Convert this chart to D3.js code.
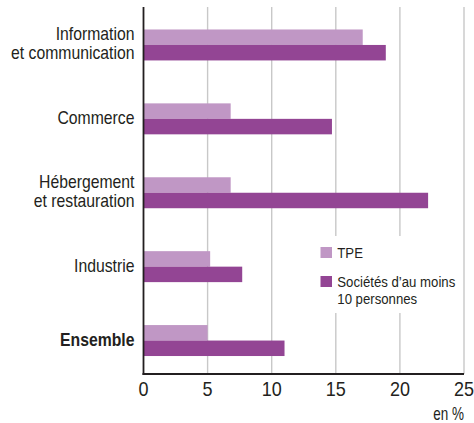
<!DOCTYPE html>
<html><head><meta charset="utf-8">
<script src="https://cdn.jsdelivr.net/npm/d3@7"></script>
<style>
body{margin:0;background:#fff;}
text{font-family:"Liberation Sans",Arial,sans-serif;fill:#231f20;}
</style></head><body>
<svg id="c" width="474" height="423"></svg>
<script>
const categories = [["Information","et communication"],["Commerce"],["Hébergement","et restauration"],["Industrie"],["Ensemble"]];
const tpe = [17.1, 6.8, 6.8, 5.2, 5.0];
const societes = [18.9, 14.7, 22.2, 7.7, 11.0];
const seriesNames = [["TPE"], ["Sociétés d’au moins","10 personnes"]];
const colors = ["#c097c5", "#934594"];
const ticks = [0,5,10,15,20,25];

const svg = d3.select("#c");
const W = 474, H = 423;
const plotTop = 7, plotBottom = 374;
const x = d3.scaleLinear().domain([0,25]).range([143.5, 464]);
const y = d3.scaleBand().domain(d3.range(categories.length)).range([11, 374.5]).paddingInner(0.581).paddingOuter(0.25);
const y2 = d3.scaleBand().domain([0,1]).range([0, y.bandwidth()]);

// gridlines
svg.append("g").selectAll("line").data(ticks.slice(1)).join("line")
  .attr("x1", d=>x(d)).attr("x2", d=>x(d)).attr("y1", plotTop).attr("y2", plotBottom)
  .attr("stroke", "#c8c8c8").attr("stroke-width", 1.4);

// legend background
const lg = svg.append("g");
lg.append("rect").attr("x", 310).attr("y", 236).attr("width", 150).attr("height", 77).attr("fill", "#fff");

// bars
const g = svg.append("g");
[tpe, societes].forEach((vals, si) => {
  g.selectAll(null).data(vals).join("rect")
    .attr("x", x(0)).attr("y", (d,i)=>y(i)+y2(si))
    .attr("width", d=>x(d)-x(0)).attr("height", y2.bandwidth())
    .attr("fill", colors[si]);
});

// condensed text helper
function ctext(parent, px, py, lines, opts) {
  const o = Object.assign({size:19, sx:0.83, anchor:"start", lh:18.5, weight:"normal"}, opts);
  const t = parent.append("text")
    .attr("transform", `translate(${px},${py}) scale(${o.sx},1)`)
    .attr("text-anchor", o.anchor).attr("font-size", o.size).attr("font-weight", o.weight);
  lines.forEach((s, k) => t.append("tspan").attr("x", 0).attr("y", k*o.lh/1).text(s));
  return t;
}

// x axis
const xa = svg.append("g").attr("transform", `translate(0,${plotBottom})`)
  .call(d3.axisBottom(x).tickValues(ticks).tickSize(0).tickPadding(8).tickFormat(d3.format("d")));
xa.select(".domain").remove();
xa.selectAll("text").attr("font-size", 20).attr("transform", "scale(0.9,1)")
  .style("font-family",'"Liberation Sans",Arial,sans-serif').attr("fill","#231f20");
xa.selectAll(".tick").attr("transform", d => `translate(${x(d)},0)`);

svg.append("line").attr("x1", x(0)-1).attr("x2", x(25)).attr("y1", plotBottom).attr("y2", plotBottom)
  .attr("stroke", "#231f20").attr("stroke-width", 1.8);
svg.append("line").attr("x1", x(0)).attr("x2", x(0)).attr("y1", plotTop).attr("y2", plotBottom+1)
  .attr("stroke", "#231f20").attr("stroke-width", 1.8);

// category labels
categories.forEach((lines, i) => {
  const cy = y(i) + y.bandwidth()/2;
  const first = lines.length === 1 ? cy + 5.5 : cy - 4.5;
  ctext(svg, 134.5, first, lines, {anchor:"end", weight: i === categories.length-1 ? "bold" : "normal"});
});

// legend
const legY = [247, 276];
seriesNames.forEach((lines, i) => {
  lg.append("rect").attr("x", 320.5).attr("y", legY[i]).attr("width", 11.5).attr("height", 11).attr("fill", colors[i]);
  ctext(lg, 337.3, legY[i] + 11, lines, {size:15, sx:0.88, lh:17.3});
});

ctext(svg, 464, 420, ["en %"], {size:18, sx:0.75, anchor:"end"});
</script>
</body></html>
